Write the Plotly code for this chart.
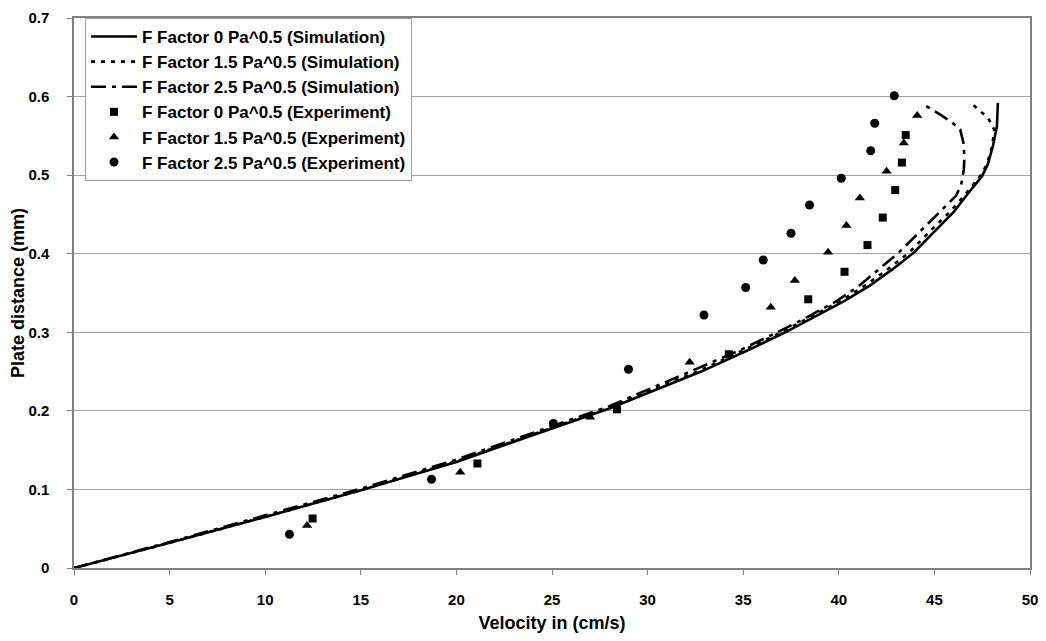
import plotly.graph_objects as go

# Simulation curves (velocity cm/s, plate distance mm)
sim0_x = [0, 5, 10, 15, 20, 25, 28, 32.8, 35.5, 37.2, 38.6, 40.3, 41.6, 42.8, 43.9, 44.9, 46.0, 46.8, 47.5, 47.8, 48.06, 48.27, 48.32]
sim0_y = [0, 0.032, 0.065, 0.099, 0.135, 0.177, 0.203, 0.250, 0.280, 0.300, 0.318, 0.340, 0.359, 0.380, 0.401, 0.426, 0.453, 0.478, 0.499, 0.514, 0.537, 0.562, 0.592]

sim15_x = [0, 5, 10, 15, 20, 25, 28, 32.8, 35.3, 37.0, 38.4, 40.1, 41.4, 42.6, 43.7, 44.7, 45.8, 46.7, 47.4, 47.75, 48.02, 48.13, 47.8, 47.0]
sim15_y = [0, 0.032, 0.065, 0.099, 0.136, 0.178, 0.204, 0.252, 0.280, 0.300, 0.318, 0.340, 0.360, 0.381, 0.402, 0.427, 0.453, 0.478, 0.499, 0.514, 0.537, 0.558, 0.573, 0.590]

sim25_x = [0, 5, 10, 15, 20, 25, 28, 32.8, 34.9, 36.7, 38.1, 39.84, 41.0, 41.94, 43.16, 44.2, 45.27, 45.8, 46.14, 46.4, 46.54, 46.57, 46.52, 46.35, 45.87, 45.25, 44.35]
sim25_y = [0, 0.033, 0.067, 0.101, 0.138, 0.181, 0.206, 0.256, 0.278, 0.299, 0.316, 0.339, 0.358, 0.377, 0.402, 0.427, 0.453, 0.465, 0.474, 0.488, 0.507, 0.524, 0.541, 0.558, 0.568, 0.578, 0.591]

# Experimental data
exp0_x = [12.48, 21.1, 28.4, 34.25, 38.4, 40.3, 41.5, 42.3, 42.95, 43.3, 43.5]
exp0_y = [0.063, 0.133, 0.202, 0.272, 0.342, 0.377, 0.411, 0.446, 0.481, 0.516, 0.551]

exp15_x = [12.19, 20.2, 27.0, 32.2, 36.44, 37.7, 39.44, 40.4, 41.1, 42.5, 43.4, 44.1]
exp15_y = [0.054, 0.122, 0.192, 0.262, 0.332, 0.366, 0.402, 0.436, 0.471, 0.505, 0.541, 0.576]

exp25_x = [11.27, 18.7, 25.07, 29.0, 32.95, 35.13, 36.05, 37.5, 38.47, 40.13, 41.67, 41.88, 42.9]
exp25_y = [0.043, 0.113, 0.184, 0.253, 0.322, 0.357, 0.392, 0.426, 0.462, 0.496, 0.531, 0.566, 0.601]

names = [
    "F Factor 0 Pa^0.5 (Simulation)",
    "F Factor 1.5 Pa^0.5 (Simulation)",
    "F Factor 2.5 Pa^0.5 (Simulation)",
    "F Factor 0 Pa^0.5 (Experiment)",
    "F Factor 1.5 Pa^0.5 (Experiment)",
    "F Factor 2.5 Pa^0.5 (Experiment)",
]

x_ticks = [0, 5, 10, 15, 20, 25, 30, 35, 40, 45, 50]
y_ticks = [0, 0.1, 0.2, 0.3, 0.4, 0.5, 0.6, 0.7]
y_tick_text = ["0", "0.1", "0.2", "0.3", "0.4", "0.5", "0.6", "0.7"]

fig = go.Figure()
fig.add_trace(go.Scatter(x=sim0_x, y=sim0_y, mode="lines", name=names[0],
                         line=dict(color="black", width=2.6)))
fig.add_trace(go.Scatter(x=sim15_x, y=sim15_y, mode="lines", name=names[1],
                         line=dict(color="black", width=2.6, dash="4px,6px")))
fig.add_trace(go.Scatter(x=sim25_x, y=sim25_y, mode="lines", name=names[2],
                         line=dict(color="black", width=2.6, dash="15px,6px,4px,6px")))
fig.add_trace(go.Scatter(x=exp0_x, y=exp0_y, mode="markers", name=names[3],
                         marker=dict(symbol="square", size=8, color="black")))
fig.add_trace(go.Scatter(x=exp15_x, y=exp15_y, mode="markers", name=names[4],
                         marker=dict(symbol="triangle-up", size=9, color="black")))
fig.add_trace(go.Scatter(x=exp25_x, y=exp25_y, mode="markers", name=names[5],
                         marker=dict(symbol="circle", size=9, color="black")))

font_family = "Liberation Sans, Arial, sans-serif"
fig.update_layout(
    width=1038, height=625,
    margin=dict(l=66, r=16, t=10, b=65, autoexpand=False),
    paper_bgcolor="white", plot_bgcolor="white",
    font=dict(family=font_family, size=15, color="black", weight="bold"),
    showlegend=True,
    legend=dict(x=0.0115, y=1.0, xanchor="left", yanchor="top",
                bgcolor="white", bordercolor="#a0a0a0", borderwidth=1,
                font=dict(family=font_family, size=17, color="black", weight="bold"),
                tracegroupgap=0, itemwidth=46),
)
fig.update_xaxes(
    range=[0, 50], tickmode="array", tickvals=x_ticks, automargin=False,
    showgrid=False, zeroline=False,
    showline=True, linecolor="#808080", linewidth=1.5, mirror=True,
    ticks="outside", ticklen=5, tickcolor="#808080", ticklabelstandoff=12,
    ticklabeloverflow="allow",
    tickfont=dict(size=15, family=font_family, weight="bold"),
    title=dict(text="Velocity in (cm/s)", font=dict(size=18, family=font_family, weight="bold"), standoff=13),
)
fig.update_yaxes(
    range=[0, 0.7], tickmode="array", tickvals=y_ticks, ticktext=y_tick_text, automargin=False,
    showgrid=True, gridcolor="#a0a0a0", gridwidth=1, zeroline=False,
    showline=True, linecolor="#808080", linewidth=1.5, mirror=True,
    ticks="outside", ticklen=5, tickcolor="#808080", ticklabelstandoff=15,
    ticklabeloverflow="allow",
    tickfont=dict(size=15, family=font_family, weight="bold"),
    title=dict(text="Plate distance (mm)", font=dict(size=18, family=font_family, weight="bold"), standoff=1),
)

fig.write_html("out.html")
